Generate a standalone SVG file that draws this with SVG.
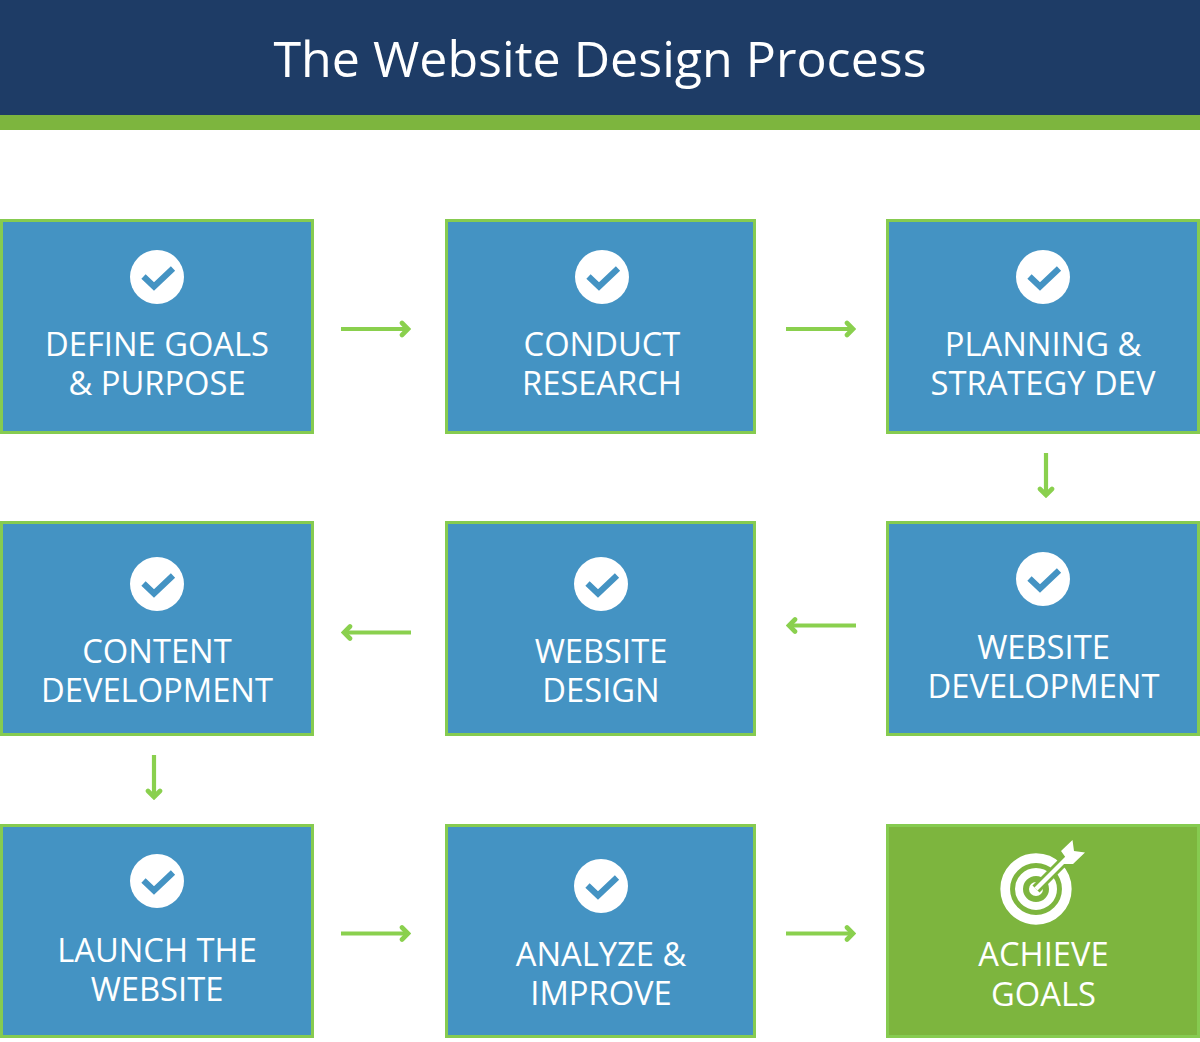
<svg xmlns="http://www.w3.org/2000/svg" width="1200" height="1042" viewBox="0 0 1200 1042">
<style>
.box{fill:#4493c3;stroke:#86cb50;stroke-width:3}
.goal{fill:#7db53e;stroke:#86cb50;stroke-width:3}
.lab{font-family:"Open Sans",sans-serif;font-size:32.700px;fill:#fff;text-anchor:middle}
.title{font-family:"Open Sans",sans-serif;font-size:50.150px;fill:#fff;text-anchor:middle}
.conn{fill:none;stroke:#8ad04e;stroke-width:4.200}
</style>
<defs>
<g id="check"><circle r="27" fill="#fff"/><path d="M-13.500,-0.500 L-3,9.500 L16,-8.500" fill="none" stroke="#4493c3" stroke-width="6.200"/></g>
<marker id="ah" viewBox="-12 -10 14 20" refX="0" refY="0" markerWidth="14" markerHeight="20" markerUnits="userSpaceOnUse" orient="auto"><path d="M-7,-6 L-1,0 L-7,6" fill="none" stroke="#8ad04e" stroke-width="4.600" stroke-linecap="round"/></marker>
</defs>
<rect width="1200" height="115" fill="#1e3c66"/>
<rect y="115" width="1200" height="15" fill="#7db53e"/>
<text class="title" x="600" y="77">The Website Design Process</text>
<g id="connectors">
<path class="conn" marker-end="url(#ah)" d="M341,329H409"/>
<path class="conn" marker-end="url(#ah)" d="M786,329H854"/>
<path class="conn" marker-end="url(#ah)" d="M1046,453V496"/>
<path class="conn" marker-end="url(#ah)" d="M856,625.500H788"/>
<path class="conn" marker-end="url(#ah)" d="M411,632.500H343"/>
<path class="conn" marker-end="url(#ah)" d="M154,755V798"/>
<path class="conn" marker-end="url(#ah)" d="M341,933.500H409"/>
<path class="conn" marker-end="url(#ah)" d="M786,933.500H854"/>
</g>
<g id="n1"><rect class="box" x="1.500" y="220.500" width="311" height="212"/><use href="#check" x="157" y="277"/><text class="lab" x="157" y="356">DEFINE GOALS</text><text class="lab" x="157" y="394.700">&amp; PURPOSE</text></g>
<g id="n2"><rect class="box" x="446.500" y="220.500" width="308" height="212"/><use href="#check" x="602" y="277"/><text class="lab" x="602" y="356">CONDUCT</text><text class="lab" x="602" y="394.700">RESEARCH</text></g>
<g id="n3"><rect class="box" x="887.500" y="220.500" width="311" height="212"/><use href="#check" x="1043" y="277"/><text class="lab" x="1043" y="356">PLANNING &amp;</text><text class="lab" x="1043" y="394.700">STRATEGY DEV</text></g>
<g id="n4"><rect class="box" x="887.500" y="522.500" width="311" height="212"/><use href="#check" x="1043" y="579"/><text class="lab" x="1043.500" y="659">WEBSITE</text><text class="lab" x="1043.500" y="697.700">DEVELOPMENT</text></g>
<g id="n5"><rect class="box" x="446.500" y="522.500" width="308" height="212"/><use href="#check" x="601" y="584"/><text class="lab" x="601" y="663">WEBSITE</text><text class="lab" x="601" y="701.700">DESIGN</text></g>
<g id="n6"><rect class="box" x="1.500" y="522.500" width="311" height="212"/><use href="#check" x="157" y="584"/><text class="lab" x="157" y="663">CONTENT</text><text class="lab" x="157" y="701.700">DEVELOPMENT</text></g>
<g id="n7"><rect class="box" x="1.500" y="825.500" width="311" height="211"/><use href="#check" x="157" y="881"/><text class="lab" x="157" y="962">LAUNCH THE</text><text class="lab" x="157" y="1000.700">WEBSITE</text></g>
<g id="n8"><rect class="box" x="446.500" y="825.500" width="308" height="211"/><use href="#check" x="601" y="886"/><text class="lab" x="601" y="966">ANALYZE &amp;</text><text class="lab" x="601" y="1004.700">IMPROVE</text></g>
<g id="n9"><rect class="goal" x="887.500" y="825.500" width="311" height="211"/>
<g fill="none" stroke="#fff"><circle cx="1036" cy="889" r="30.800" stroke-width="9.700"/><circle cx="1036" cy="889" r="17" stroke-width="8"/></g>
<circle cx="1036" cy="889" r="7" fill="#fff"/>
<path d="M1036,889L1068,857" stroke="#7db53e" stroke-width="10" fill="none"/>
<path d="M1036,889L1068,857" stroke="#fff" stroke-width="4.500" fill="none"/>
<path d="M1061,851L1072.500,840L1074,851L1085,852.500L1073,864L1060.500,864L1066,858Z" fill="#fff"/>
<text class="lab" x="1043.500" y="966">ACHIEVE</text><text class="lab" x="1043.500" y="1005.700">GOALS</text></g>
</svg>
